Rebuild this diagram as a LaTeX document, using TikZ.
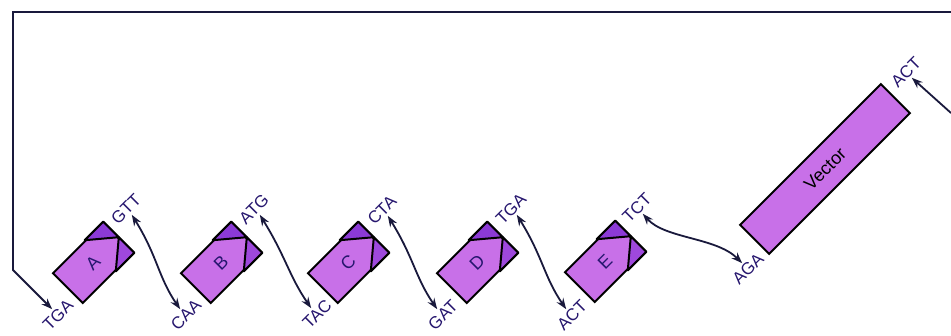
\documentclass[tikz,border=0pt]{standalone}
\usepackage{fontspec}
\setmainfont{Liberation Sans}
\usetikzlibrary{calc,arrows.meta}
\definecolor{fragfill}{RGB}{200,112,232}
\definecolor{fragdark}{RGB}{140,58,214}
\definecolor{fragmid}{RGB}{158,72,220}
\definecolor{seqblue}{RGB}{38,22,110}
\definecolor{linenavy}{RGB}{25,25,60}
\begin{document}
\begin{tikzpicture}[x=1pt, y=-1pt,
  frag/.style={draw=black, line width=2pt, fill=fragfill, rotate=45, minimum width=71pt, minimum height=42pt, inner sep=0pt, text=seqblue, font=\fontsize{18}{18}\selectfont},
  endpiece/.style={draw=black, line width=2pt, line join=round, fill=fragdark},
  seq/.style={rotate=45, text=seqblue, inner sep=2pt, font=\fontsize{17}{17}\selectfont},
  link/.style={{Stealth[length=11pt,width=8pt]}-{Stealth[length=11pt,width=8pt]}, line width=1.8pt, draw=linenavy},
  frame/.style={-{Stealth[length=11pt,width=8pt]}, line width=1.8pt, draw=linenavy}]
\useasboundingbox (0,0) rectangle (951,335);
% fragments
\node[frag] (a) at (93,263) {A};
\node[frag] (b) at (221,263) {B};
\node[frag] (c) at (348,263) {C};
\node[frag] (d) at (477,263) {D};
\node[frag] (e) at (605,262) {E};
\node[frag, minimum width=199pt, minimum height=41pt, text=black] (vec) at (825,169) {Vector};
\foreach \f in {a,b,c,d,e} {
  \filldraw[endpiece] (\f.north east) -- (\f.east) -- ($(\f.north east)!0.36!(\f.north west)$) -- cycle;
  \filldraw[endpiece, fill=fragmid] (\f.east) -- (\f.south east) -- ($(\f.south east)!0.36!(\f.south west)$) -- cycle;
}
% end sequences
\node[seq] (a-l) at (58,315) {TGA};
\node[seq] (a-r) at (126,209) {GTT};
\node[seq] (b-l) at (186,315) {CAA};
\node[seq] (b-r) at (254,209) {ATG};
\node[seq] (c-l) at (317,314) {TAC};
\node[seq] (c-r) at (382,210) {CTA};
\node[seq] (d-l) at (443,315) {GAT};
\node[seq] (d-r) at (511,209) {TGA};
\node[seq] (e-l) at (572,315) {ACT};
\node[seq] (e-r) at (637,208) {TCT};
\node[seq] (vec-l) at (748,269) {AGA};
\node[seq] (vec-r) at (906,72) {ACT};
% pairing arrows
\draw[link] (a-r.south) .. controls +(26,42) and +(-22,-32) .. (b-l.north);
\draw[link] (b-r.south) .. controls +(26,42) and +(-22,-32) .. (c-l.north);
\draw[link] (c-r.south) .. controls +(26,42) and +(-22,-32) .. (d-l.north);
\draw[link] (d-r.south) .. controls +(26,42) and +(-22,-32) .. (e-l.north);
\draw[link] (e-r.south) .. controls +(22,25) and +(-26,-26) .. (vec-l.north);
% closing line
\coordinate (topright) at (951,12);
\coordinate (topleft) at (13,12);
\coordinate (bend) at (13,270);
\coordinate (rightin) at (951,113);
\draw[frame] (topright) -- (topleft) -- (bend) -- (a-l.north);
\draw[frame] (rightin) -- (vec-r.south);
\end{tikzpicture}
\end{document}
